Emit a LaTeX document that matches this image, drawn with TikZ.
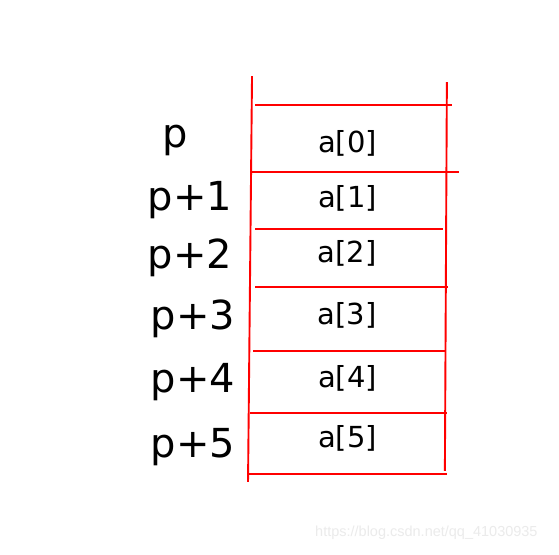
\documentclass[tikz,border=0pt]{standalone}
\usepackage{fontspec}
\newfontfamily\cellfont{DejaVu Sans}
\newfontfamily\markfont{Liberation Sans}
\begin{document}
\begin{tikzpicture}[scale=1.000000,x=1pt,y=1pt]
\filldraw[color=white] (0.000000, 0.000000) rectangle (559.000000, 554.000000);
% Drawing the two sides of the array
\draw[color=red,line width=1.9pt] (252.000000,478.000000) -- (248.000000,72.000000);
\draw[color=red,line width=1.9pt] (447.000000,472.000000) -- (445.000000,83.000000);
% Done with sides; drawing cell borders
% Border 0: top
\draw[color=red,line width=1.9pt] (255.000000,449.000000) -- (452.000000,449.000000);
% Border 1
\draw[color=red,line width=1.9pt] (252.000000,382.000000) -- (459.000000,382.000000);
% Border 2
\draw[color=red,line width=1.9pt] (255.000000,325.000000) -- (443.000000,325.000000);
% Border 3
\draw[color=red,line width=1.9pt] (255.000000,267.000000) -- (448.000000,267.000000);
% Border 4
\draw[color=red,line width=1.9pt] (253.000000,203.000000) -- (445.000000,203.000000);
% Border 5
\draw[color=red,line width=1.9pt] (250.000000,141.000000) -- (447.000000,141.000000);
% Border 6: bottom
\draw[color=red,line width=1.9pt] (248.000000,80.000000) -- (447.000000,80.000000);
% Done with borders; drawing cell contents
\draw[color=black] (347.500000,402.000000) node[anchor=base,font=\cellfont\fontsize{29}{29}\selectfont] (a0) {a[0]};
\draw[color=black] (347.500000,347.000000) node[anchor=base,font=\cellfont\fontsize{29}{29}\selectfont] (a1) {a[1]};
\draw[color=black] (347.000000,292.000000) node[anchor=base,font=\cellfont\fontsize{29}{29}\selectfont] (a2) {a[2]};
\draw[color=black] (347.000000,229.000000) node[anchor=base,font=\cellfont\fontsize{29}{29}\selectfont] (a3) {a[3]};
\draw[color=black] (347.500000,166.000000) node[anchor=base,font=\cellfont\fontsize{29}{29}\selectfont] (a4) {a[4]};
\draw[color=black] (347.500000,106.000000) node[anchor=base,font=\cellfont\fontsize{29}{29}\selectfont] (a5) {a[5]};
% Done with contents; drawing pointer labels
\draw[color=black] (175.000000,407.000000) node[anchor=base,font=\cellfont\fontsize{40}{40}\selectfont] (p0) {p};
\draw[color=black] (190.000000,344.000000) node[anchor=base,font=\cellfont\fontsize{40}{40}\selectfont] (p1) {p+1};
\draw[color=black] (190.000000,286.000000) node[anchor=base,font=\cellfont\fontsize{40}{40}\selectfont] (p2) {p+2};
\draw[color=black] (193.000000,224.000000) node[anchor=base,font=\cellfont\fontsize{40}{40}\selectfont] (p3) {p+3};
\draw[color=black] (193.000000,161.000000) node[anchor=base,font=\cellfont\fontsize{40}{40}\selectfont] (p4) {p+4};
\draw[color=black] (193.000000,96.000000) node[anchor=base,font=\cellfont\fontsize{40}{40}\selectfont] (p5) {p+5};
% Done with labels; drawing watermark
\draw[color=black!8] (426.500000,17.000000) node[anchor=base,font=\markfont\fontsize{14.5}{14.5}\selectfont] (mark) {https://blog.csdn.net/qq\_41030935};
\end{tikzpicture}
\end{document}
